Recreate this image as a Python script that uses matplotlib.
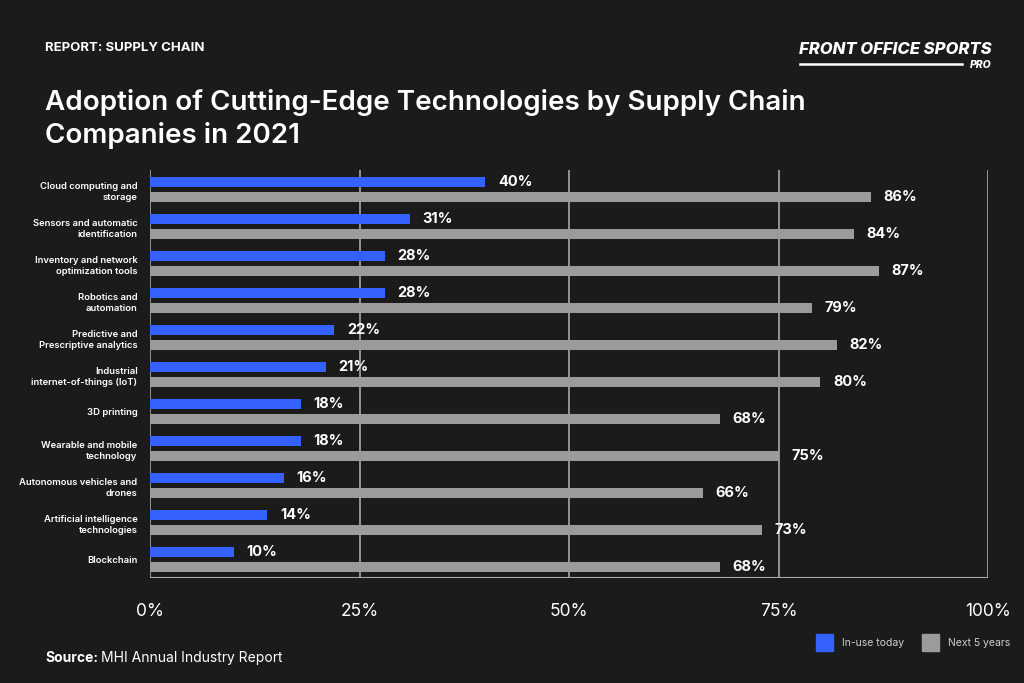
import numpy as np
import matplotlib
matplotlib.use('Agg')
from matplotlib import pyplot as plt
from matplotlib.patches import Rectangle

categories = [
    "Cloud computing and\nstorage",
    "Sensors and automatic\nidentification",
    "Inventory and network\noptimization tools",
    "Robotics and\nautomation",
    "Predictive and\nPrescriptive analytics",
    "Industrial\ninternet-of-things (IoT)",
    "3D printing",
    "Wearable and mobile\ntechnology",
    "Autonomous vehicles and\ndrones",
    "Artificial intelligence\ntechnologies",
    "Blockchain",
]
in_use = [40, 31, 28, 28, 22, 21, 18, 18, 16, 14, 10]
next_5 = [86, 84, 87, 79, 82, 80, 68, 75, 66, 73, 68]
ticks = [0, 25, 50, 75, 100]
tick_labels = ["0%", "25%", "50%", "75%", "100%"]

BG = "#1b1b1b"
BLUE = "#3461ff"
GRAY = "#9b9b9b"
LINE = "#a8a8a8"
plt.rcParams['font.family'] = ['Inter', 'DejaVu Sans']

fig = plt.figure(figsize=(10.24, 6.83), dpi=100, facecolor=BG)
ax = fig.add_axes([150 / 1024, 1 - 578 / 683, 838 / 1024, 408 / 683])
ax.set_facecolor(BG)

y = np.arange(len(categories))
h = 0.27
off = 0.2
ax.barh(y - off, in_use, height=h, color=BLUE, zorder=3)
ax.barh(y + off, next_5, height=h, color=GRAY, zorder=3)

for yi, v in zip(y, in_use):
    ax.text(v + 1.5, yi - off, f"{v}%", color="white", fontsize=10.5, fontweight="bold",
            va="center", ha="left")
for yi, v in zip(y, next_5):
    ax.text(v + 1.5, yi + off, f"{v}%", color="white", fontsize=10.5, fontweight="bold",
            va="center", ha="left")

ax.set_xlim(0, 100)
ax.set_ylim(len(categories) - 0.5, -0.53)
for t in ticks:
    ax.axvline(t, color=LINE, lw=1.2, zorder=1)
ax.axhline(len(categories) - 0.5, color=LINE, lw=1.5, zorder=1)

ax.set_yticks(y)
ax.set_yticklabels(categories, fontsize=6.8, color="white", fontweight="semibold",
                   linespacing=1.4, multialignment="right")
ax.set_xticks(ticks)
ax.set_xticklabels(tick_labels, fontsize=12.5, color="white")
ax.tick_params(axis="both", length=0)
ax.tick_params(axis="y", pad=9)
ax.tick_params(axis="x", pad=18)
for s in ax.spines.values():
    s.set_visible(False)

# header
fig.text(45 / 1024, 1 - 48 / 683, "REPORT: SUPPLY CHAIN", color="white", fontsize=9.5,
         fontweight="bold", va="center")
fig.text(45 / 1024, 1 - 119 / 683, "Adoption of Cutting-Edge Technologies by Supply Chain\nCompanies in 2021",
         color="white", fontsize=20, fontweight="semibold", va="center", linespacing=1.25)

# logo
fig.text(992 / 1024, 1 - 50 / 683, "FRONT OFFICE SPORTS", color="white", fontsize=12,
         fontweight="heavy", style="italic", ha="right", va="center")
fig.text(992 / 1024, 1 - 65 / 683, "PRO", color="white", fontsize=7.5,
         fontweight="heavy", style="italic", ha="right", va="center")
fig.add_artist(plt.Line2D([800 / 1024, 962 / 1024], [1 - 64 / 683, 1 - 64 / 683],
                          color="white", lw=1.8))

# legend
fig.add_artist(Rectangle((816 / 1024, 1 - 651 / 683), 17 / 1024, 17 / 683, color=BLUE))
fig.text(842 / 1024, 1 - 643 / 683, "In-use today", color="#cfcfcf", fontsize=7.5, va="center")
fig.add_artist(Rectangle((922 / 1024, 1 - 651 / 683), 17 / 1024, 17 / 683, color=GRAY))
fig.text(948 / 1024, 1 - 643 / 683, "Next 5 years", color="#cfcfcf", fontsize=7.5, va="center")

# source
fig.text(45 / 1024, 1 - 658 / 683, "Source:", color="white", fontsize=10,
         fontweight="bold", va="center")
fig.text(101 / 1024, 1 - 658 / 683, "MHI Annual Industry Report", color="white", fontsize=10,
         va="center")

fig.savefig("out.png", dpi=100, facecolor=BG)
